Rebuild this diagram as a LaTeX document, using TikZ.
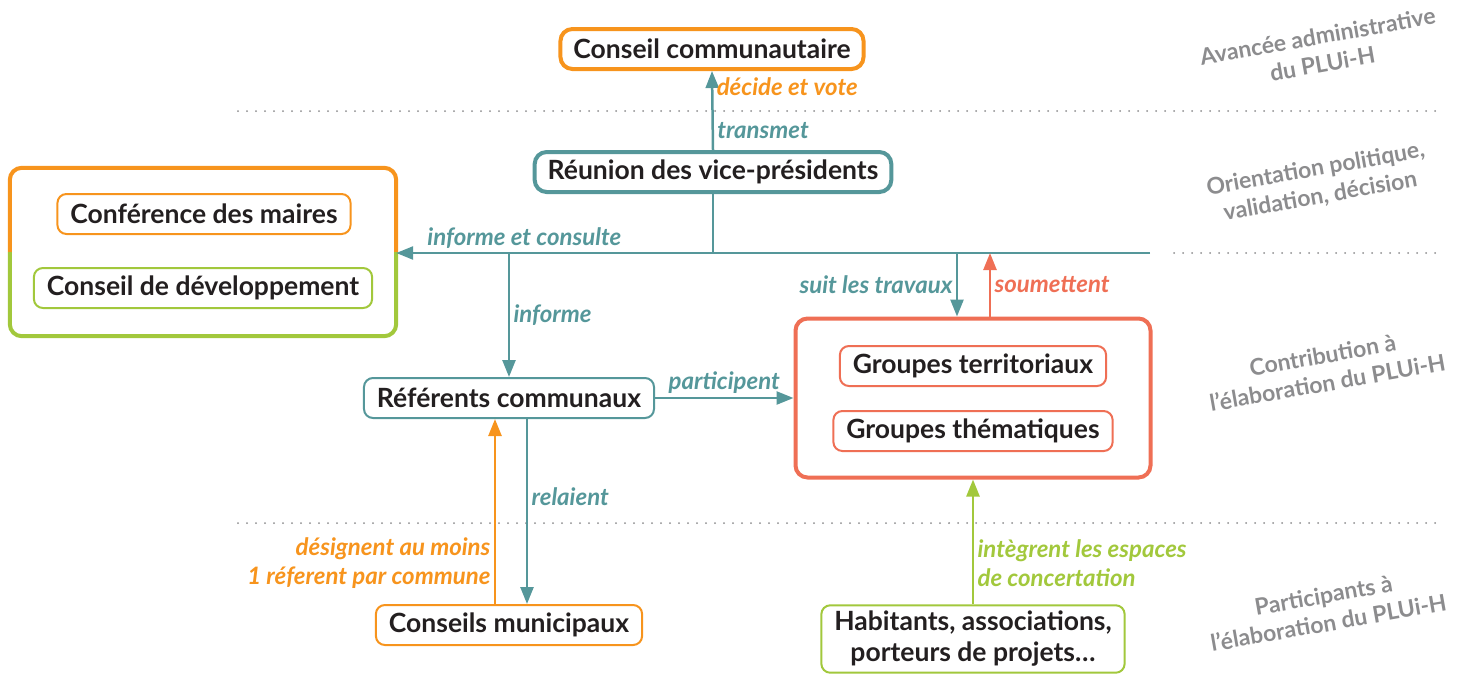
\documentclass[tikz,border=0pt]{standalone}
\usepackage{fontspec}
\setmainfont{Lato}
\usetikzlibrary{arrows.meta, positioning}
\definecolor{tealC}{HTML}{55979A}
\definecolor{orangeC}{HTML}{F7941D}
\definecolor{greenC}{HTML}{A2C83C}
\definecolor{redC}{HTML}{EF6F55}
\definecolor{greyC}{HTML}{8C8C8E}
\definecolor{inkC}{HTML}{231F20}

\begin{document}
\begin{tikzpicture}[x=1pt, y=-1pt,
        box/.style={draw, rounded corners=9pt, line width=2pt, fill=white, text=inkC,
            font=\fontsize{26.5}{31}\selectfont\bfseries, inner xsep=13pt, minimum height=40pt},
        bigbox/.style={box, line width=4pt, rounded corners=12pt},
        lbl/.style={font=\fontsize{24}{29}\selectfont\bfseries\itshape},
        link/.style={line width=2.5pt, -{Triangle[length=17pt, width=13pt]}},
        phase/.style={text=greyC, font=\fontsize{23}{28}\selectfont\bfseries, align=center, rotate=10},
        sep/.style={greyC, line width=2pt, dash pattern=on 0pt off 9pt, line cap=round}
    ]
        \useasboundingbox (0,0) rectangle (1460,673);

        % Phase separators
        \draw[sep] (238,111) -- (1440,111);
        \draw[sep] (1174,253) -- (1440,253);
        \draw[sep] (238,523) -- (1440,523);

        % Phase labels
        \node[phase] (ph1) at (1320,50) {Avancée administrative\\du PLUi-H};
        \node[phase] (ph2) at (1318,183) {Orientation politique,\\validation, décision};
        \node[phase] (ph3) at (1325,369) {Contribution à\\l’élaboration du PLUi-H};
        \node[phase] (ph4) at (1326,609) {Participants à\\l’élaboration du PLUi-H};

        % Top level
        \node[bigbox, draw=orangeC] (cc) at (712,49) {Conseil communautaire};
        \node[bigbox, draw=tealC] (rvp) at (713,172) {Réunion des vice-présidents};

        % Left group
        \node[minimum width=386pt, minimum height=168pt] (grpL) at (203,252) {};
        \draw[orangeC, line width=4pt, rounded corners=12pt] (grpL.west) |- (grpL.north) -| (grpL.east);
        \draw[greenC, line width=4pt, rounded corners=12pt] (grpL.west) |- (grpL.south) -| (grpL.east);
        \node[box, draw=orangeC] (cdm) at (204,214) {Conférence des maires};
        \node[box, draw=greenC] (cdd) at (203,288) {Conseil de développement};

        % Middle
        \node[box, draw=tealC] (ref) at (509,398) {Référents communaux};
        \node[box, draw=orangeC] (mun) at (509,625) {Conseils municipaux};

        % Right group
        \node[bigbox, draw=redC, minimum width=355pt, minimum height=159pt] (grpR) at (973,398) {};
        \node[box, draw=redC] (gt) at (973,366) {Groupes territoriaux};
        \node[box, draw=redC] (gth) at (973,431) {Groupes thématiques};
        \node[box, draw=greenC, align=center, inner ysep=6pt] (hab) at (973,639) {Habitants, associations,\\porteurs de projets…};

        % Main teal line
        \coordinate (lineR) at (1150,253);
        \draw[link, tealC] (lineR) -- (grpL.east |- lineR)
            node[pos=0.83, above, lbl] (l1) {informe et consulte};
        \draw[tealC, line width=2.5pt] (rvp.south) -- (rvp.south |- lineR);

        % Connectors
        \draw[link, tealC] (rvp.north) -- (cc.south)
            node[pos=0.25, right, lbl] (l2) {transmet}
            node[pos=0.8, right, lbl, orangeC] (l3) {décide et vote};
        \draw[link, tealC] (ref.north |- lineR) -- (ref.north)
            node[midway, right, lbl] (l4) {informe};
        \draw[link, tealC] ([xshift=-16pt]grpR.north |- lineR) -- ([xshift=-16pt]grpR.north)
            node[midway, left, lbl] (l5) {suit les travaux};
        \draw[link, redC] ([xshift=17pt]grpR.north) -- ([xshift=17pt]grpR.north |- lineR)
            node[midway, right, lbl] (l6) {soumettent};
        \draw[link, tealC] (ref.east) -- (grpR.west)
            node[midway, above, lbl] (l7) {participent};
        \draw[link, tealC] ([xshift=18pt]ref.south) -- ([xshift=18pt]ref.south |- mun.north)
            node[pos=0.42, right, lbl] (l8) {relaient};
        \draw[link, orangeC] ([xshift=-14pt]mun.north) -- ([xshift=-14pt]mun.north |- ref.south)
            node[pos=0.22, left, lbl, align=right] (l9) {désignent au moins\\1 réferent par commune};
        \draw[link, greenC] (hab.north) -- (grpR.south)
            node[pos=0.33, right, lbl, align=left] (l10) {intègrent les espaces\\de concertation};
\end{tikzpicture}
\end{document}
